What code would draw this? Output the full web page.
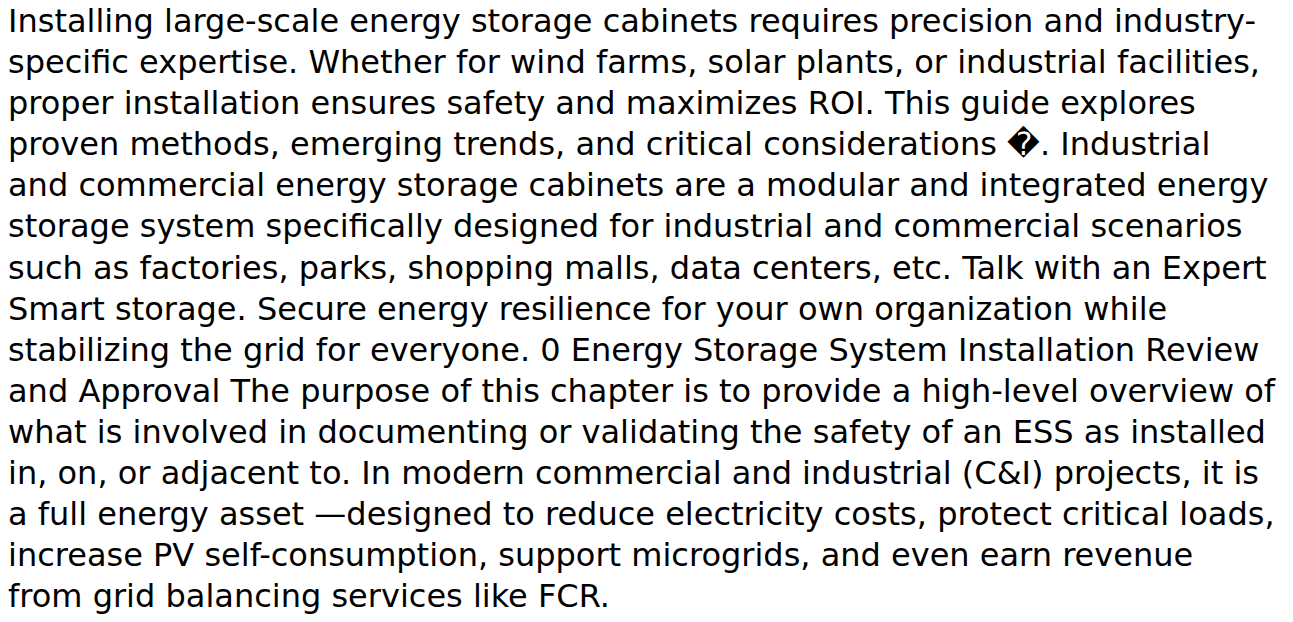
<!DOCTYPE html>
<html>
<head>
<meta charset="utf-8">
<script src="https://cdn.jsdelivr.net/npm/chart.js@4"></script>
<style>
  html, body { margin: 0; padding: 0; background: #fff; }
  #texto {
    font-family: "DejaVu Sans", sans-serif;
    font-size: 32px;
    line-height: 41.1px;
    color: #000;
    padding: 1px 0 0 8px;
    box-sizing: border-box;
    width: 1276px;
  }
</style>
</head>
<body>
<div id="texto">Installing large-scale energy storage cabinets requires precision and industry-specific expertise. Whether for wind farms, solar plants, or industrial facilities, proper installation ensures safety and maximizes ROI. This guide explores proven methods, emerging trends, and critical considerations &#xFFFD;. Industrial and commercial energy storage cabinets are a modular and integrated energy storage system specifically designed for industrial and commercial scenarios such as factories, parks, shopping malls, data centers, etc. Talk with an Expert Smart storage. Secure energy resilience for your own organization while stabilizing the grid for everyone. 0 Energy Storage System Installation Review and Approval The purpose of this chapter is to provide a high-level overview of what is involved in documenting or validating the safety of an ESS as installed in, on, or adjacent to. In modern commercial and industrial (C&amp;I) projects, it is a full energy asset &#x2014;designed to reduce electricity costs, protect critical loads, increase PV self-consumption, support microgrids, and even earn revenue from grid balancing services like FCR.</div>
</body>
</html>
